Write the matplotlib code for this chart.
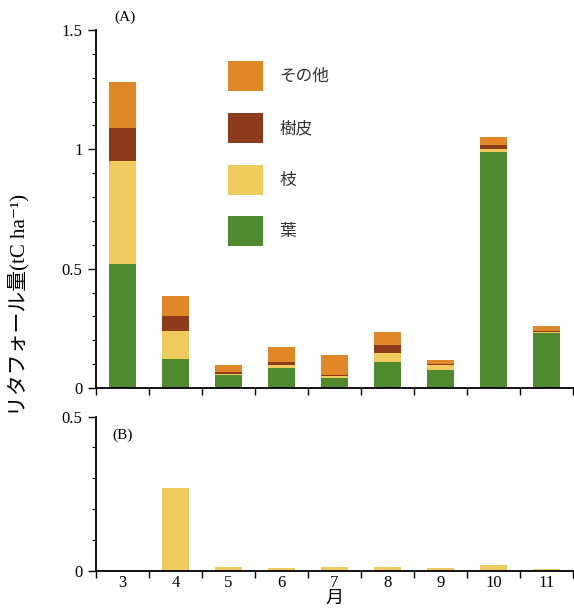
import numpy as np
import matplotlib.pyplot as plt
from matplotlib.ticker import MultipleLocator, FixedLocator, FuncFormatter
from matplotlib.patches import Patch

plt.rcParams['font.family'] = ['Liberation Serif', 'Noto Sans CJK JP', 'DejaVu Sans']

months = [3, 4, 5, 6, 7, 8, 9, 10, 11]
# (A) 葉, 枝, 樹皮, その他
leaf = [0.52, 0.12, 0.055, 0.084, 0.042, 0.11, 0.075, 0.99, 0.23]
branch = [0.43, 0.12, 0.005, 0.012, 0.010, 0.037, 0.020, 0.010, 0.005]
bark = [0.14, 0.06, 0.005, 0.012, 0.004, 0.033, 0.004, 0.020, 0.005]
other = [0.19, 0.085, 0.030, 0.065, 0.082, 0.055, 0.018, 0.030, 0.020]
# (B) 枝
branch_b = [0.0, 0.27, 0.012, 0.008, 0.012, 0.012, 0.008, 0.020, 0.005]

labels = ['葉', '枝', '樹皮', 'その他']
colors = ['#4f8a2f', '#eecb5c', '#8e3b1b', '#e08828']

fig = plt.figure(figsize=(5.74, 6.11), dpi=100)
ax1 = fig.add_axes([0.167, 0.365, 0.831, 0.586])
ax2 = fig.add_axes([0.167, 0.066, 0.831, 0.252])

x = np.arange(len(months))
w = 0.52
bottom = np.zeros(len(months))
for vals, c in zip([leaf, branch, bark, other], colors):
    ax1.bar(x, vals, w, bottom=bottom, color=c, edgecolor='none')
    bottom += np.array(vals)

ax2.bar(x, branch_b, w, color=colors[1], edgecolor='none')

fmt = FuncFormatter(lambda v, p: '%g' % v)
for ax in (ax1, ax2):
    ax.spines['top'].set_visible(False)
    ax.spines['right'].set_visible(False)
    ax.spines['left'].set_linewidth(1.3)
    ax.spines['bottom'].set_linewidth(1.3)
    ax.set_xlim(-0.5, len(months) - 0.5)
    ax.xaxis.set_major_locator(FixedLocator(x))
    ax.xaxis.set_minor_locator(FixedLocator(np.arange(len(months) + 1) - 0.5))
    ax.tick_params(axis='x', which='major', length=0, labelsize=12, pad=3)
    ax.tick_params(axis='x', which='minor', length=5, width=1, direction='out')
    ax.yaxis.set_major_formatter(fmt)
    ax.yaxis.set_minor_locator(MultipleLocator(0.1))
    ax.tick_params(axis='y', which='major', length=6, width=1, labelsize=12)
    ax.tick_params(axis='y', which='minor', length=3, width=0.8)

ax1.set_ylim(0, 1.5)
ax1.yaxis.set_major_locator(MultipleLocator(0.5))
ax1.set_xticklabels([])
ax2.set_ylim(0, 0.5)
ax2.yaxis.set_major_locator(MultipleLocator(0.5))
ax2.set_xticklabels([str(m) for m in months])
ax2.set_xlabel('月', fontsize=13, labelpad=-1)

fig.text(0.218, 0.972, '(A)', fontsize=11, ha='center', va='center')
ax2.text(0.055, 0.88, '(B)', transform=ax2.transAxes, fontsize=11, ha='center', va='center')

handles = [Patch(facecolor=c, edgecolor='none') for c in colors[::-1]]
ax1.legend(handles, labels[::-1], loc='upper left', bbox_to_anchor=(0.245, 0.955),
           frameon=False, fontsize=12, handlelength=2.1, handleheight=2.4,
           labelspacing=1.3, handletextpad=1.0, labelcolor='#333333')

fig.text(0.035, 0.5, 'リタフォール量(tC ha⁻¹)', rotation=90, fontsize=15,
         ha='center', va='center')

fig.savefig('out.png', dpi=100)
